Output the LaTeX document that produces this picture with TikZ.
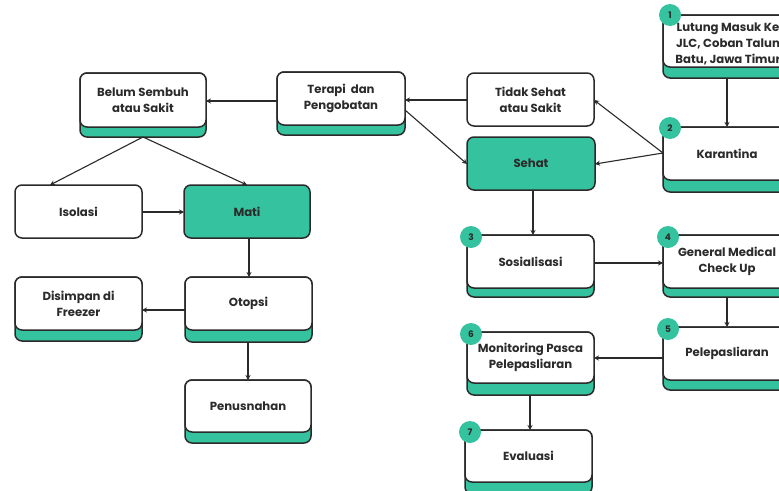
\documentclass[tikz,border=0pt]{standalone}
\usepackage{fontspec}
\setmainfont{Poppins}[BoldFont={Poppins Bold}]
\usetikzlibrary{arrows.meta}
\definecolor{teal1}{HTML}{35C29E}
\definecolor{ink}{HTML}{2A2A2A}
\definecolor{txt}{HTML}{2B2B2B}
\tikzset{
  boxtext/.style={font=\bfseries\fontsize{11.7}{15.8}\selectfont, text=txt, align=center, inner sep=0pt},
  plainbox/.style={draw=ink, line width=1.5pt, rounded corners=7pt, fill=white},
  greenbox/.style={draw=ink, line width=1.5pt, rounded corners=7pt, fill=teal1},
  badge/.style={circle, fill=teal1, minimum size=22pt, inner sep=0pt, font=\bfseries\fontsize{9}{10}\selectfont, text=ink},
  conn/.style={draw=ink, line width=1.1pt, -{Stealth[length=5pt,width=5pt]}},
}
% \stripbox{name}{x1}{y1}{x2}{ywhite}{y2}{text}
\newcommand{\stripbox}[7]{%
  \draw[greenbox] (#2,#3) rectangle (#4,#6);
  \draw[plainbox] (#2,#3) rectangle (#4,#5);
  \node[boxtext] (#1) at ({(#2+#4)/2},{(#3+#5)/2}) {#7};
  \coordinate (#1-s) at ({(#2+#4)/2},#6);
}
\begin{document}
\begin{tikzpicture}[x=1pt,y=-1pt]
\useasboundingbox (0,0) rectangle (779,490);
\clip (0,0) rectangle (779,490);
\fill[white] (0,0) rectangle (779,490);

% right column
\draw[greenbox] (663,15) rectangle (791,78);
\draw[plainbox] (663,15) rectangle (791,67);
\node[boxtext] (lut) at (728,44) {Lutung Masuk Ke\\JLC, Coban Talun\\Batu, Jawa Timur};
\coordinate (lut-s) at (727,78);
\stripbox{kar}{663}{127}{791}{180}{192}{Karantina}
\stripbox{gmc}{663}{235}{791}{288}{297}{General Medical\\Check Up}
\stripbox{pel}{663}{327}{791}{380}{390}{Pelepasliaran}

% middle column
\draw[plainbox] (467,73) rectangle (594,126);
\node[boxtext] (tid) at (530.5,99.5) {Tidak Sehat\\atau Sakit};
\draw[greenbox] (467,137) rectangle (595,190);
\node[boxtext] (seh) at (531,163.5) {Sehat};
\stripbox{sos}{467}{235}{594}{288}{297}{Sosialisasi}
\stripbox{mon}{467}{332}{594}{383}{395}{Monitoring Pasca\\Pelepasliaran}
\stripbox{eva}{465}{430}{592}{482}{494}{Evaluasi}

% left part
\stripbox{ter}{277}{72}{405}{125}{135}{Terapi\ \ dan\\Pengobatan}
\stripbox{bel}{80}{73}{206}{127}{137}{Belum Sembuh\\atau Sakit}
\draw[plainbox] (15,185) rectangle (142,238);
\node[boxtext] (iso) at (78.5,211.5) {Isolasi};
\draw[greenbox] (184,185) rectangle (310,238);
\node[boxtext] (mat) at (247,211.5) {Mati};
\stripbox{oto}{185}{277}{312}{330}{342}{Otopsi}
\stripbox{dis}{15}{277}{142}{330}{341}{Disimpan di\\Freezer}
\stripbox{pen}{185}{380}{311}{432}{443}{Penusnahan}

% badges
\node[badge] (b1) at (670,15) {1};
\node[badge] (b2) at (670,128) {2};
\node[badge] (b3) at (471,237) {3};
\node[badge] (b4) at (668,237) {4};
\node[badge] (b5) at (668,329) {5};
\node[badge] (b6) at (471,334) {6};
\node[badge] (b7) at (470,432) {7};

% connectors
\coordinate (karw) at (663,153);
\draw[conn] (lut-s) -- (727,127);
\draw[conn] (karw) -- (594,100);
\draw[conn] (karw) -- (595,164);
\draw[conn] (467,100) -- (405,100);
\draw[conn] (405,110) -- (467,164);
\draw[conn] (277,101) -- (206,101);
\draw[conn] (bel-s) -- (50,185);
\draw[conn] (bel-s) -- (247,185);
\draw[conn] (142,212) -- (184,212);
\draw[conn] (249,238) -- (249,277);
\draw[conn] (185,310) -- (142,310);
\draw[conn] (248,342) -- (248,380);
\draw[conn] (533,190) -- (533,235);
\draw[conn] (594,263) -- (663,263);
\draw[conn] (727,297) -- (727,327);
\draw[conn] (663,358) -- (594,358);
\draw[conn] (530,395) -- (530,430);
\end{tikzpicture}
\end{document}
